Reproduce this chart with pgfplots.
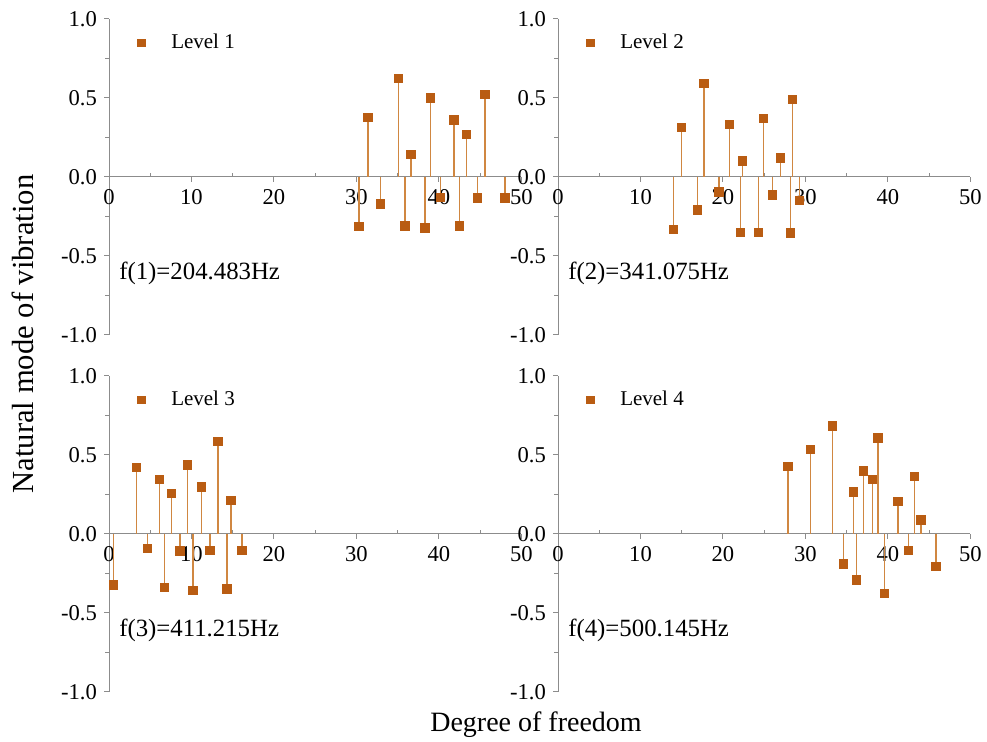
\documentclass[border=0pt]{standalone}
\usepackage{pgfplots}
\pgfplotsset{compat=1.18}
\usepackage{fontspec}
\setmainfont{Liberation Serif}
\definecolor{mk}{RGB}{185,92,18}
\definecolor{stemc}{RGB}{208,135,65}
\definecolor{axgray}{RGB}{140,140,140}

\pgfplotsset{
 mystyle/.style={
  width=206.25pt, height=158pt, scale only axis,
  xmin=0, xmax=50, ymin=-1, ymax=1,
  axis x line=middle, axis y line=left,
  axis line style={axgray, line width=0.5pt, -},
  xtick={0,10,...,50}, ytick={-1,-0.5,0,0.5,1},
  minor x tick num=1, minor y tick num=1,
  tick align=outside,
  major tick length=2.5pt, minor tick length=2pt,
  tick style={axgray, line width=0.5pt},
  minor x tick style={yshift=2pt},
  hide obscured x ticks=false,
  /pgf/number format/assume math mode=true,
  tick label style={font=\fontsize{11.3}{13}\selectfont},
  yticklabel style={/pgf/number format/.cd, fixed, fixed zerofill, precision=1},
  legend style={at={(0.069,0.925)}, anchor=west, draw=none, fill=none,
     inner sep=0pt, nodes={inner sep=0pt},
     /tikz/every odd column/.append style={column sep=13pt},
     font=\fontsize{10.5}{12}\selectfont},
  clip=false,
 },
 stemplot/.style={ycomb, color=stemc, line width=0.7pt, mark=square*, mark size=2pt,
   mark options={fill=mk, draw=mk}, forget plot},
 legimg/.style={only marks, mark=square*, mark size=1.85pt, color=mk},
}

\begin{document}
\begin{tikzpicture}
\useasboundingbox (0,0) rectangle (493.5pt,371pt);

% Level 1
\begin{axis}[mystyle, at={(54.5pt,203.5pt)}, anchor=south west]
\addplot[stemplot] coordinates {(30.3,-0.313)(31.4,0.375)(32.9,-0.17)(35.1,0.625)(35.9,-0.31)(36.6,0.143)(38.3,-0.322)(39.0,0.5)(40.2,-0.13)(41.8,0.36)(42.5,-0.31)(43.3,0.268)(44.7,-0.132)(45.6,0.522)(48.0,-0.132)};
\addlegendimage{legimg}
\addlegendentry{Level 1}
\node[anchor=west, inner sep=0pt, font=\fontsize{12.4}{14}\selectfont] at (axis cs:1.2,-0.61) {f(1)=204.483Hz};
\end{axis}

% Level 2
\begin{axis}[mystyle, at={(279pt,203.5pt)}, anchor=south west]
\addplot[stemplot] coordinates {(14.0,-0.334)(15.0,0.315)(16.9,-0.21)(17.7,0.59)(19.5,-0.095)(20.8,0.334)(22.1,-0.351)(22.4,0.102)(24.3,-0.351)(24.9,0.372)(26.0,-0.115)(27.0,0.121)(28.2,-0.355)(28.4,0.491)(29.3,-0.147)};
\addlegendimage{legimg}
\addlegendentry{Level 2}
\node[anchor=west, inner sep=0pt, font=\fontsize{12.4}{14}\selectfont] at (axis cs:1.2,-0.61) {f(2)=341.075Hz};
\end{axis}

% Level 3
\begin{axis}[mystyle, at={(54.5pt,25pt)}, anchor=south west]
\addplot[stemplot] coordinates {(0.56,-0.322)(3.3,0.421)(4.7,-0.09)(6.1,0.345)(6.7,-0.339)(7.55,0.255)(8.6,-0.107)(9.5,0.436)(10.2,-0.356)(11.2,0.297)(12.25,-0.103)(13.2,0.585)(14.3,-0.347)(14.8,0.213)(16.1,-0.103)};
\addlegendimage{legimg}
\addlegendentry{Level 3}
\node[anchor=west, inner sep=0pt, font=\fontsize{12.4}{14}\selectfont] at (axis cs:1.2,-0.61) {f(3)=411.215Hz};
\end{axis}

% Level 4
\begin{axis}[mystyle, at={(279pt,25pt)}, anchor=south west]
\addplot[stemplot] coordinates {(27.9,0.429)(30.6,0.535)(33.3,0.684)(34.6,-0.189)(35.8,0.265)(36.2,-0.291)(37.0,0.399)(38.1,0.346)(38.8,0.607)(39.6,-0.376)(41.2,0.206)(42.5,-0.104)(43.2,0.365)(44.0,0.089)(45.8,-0.206)};
\addlegendimage{legimg}
\addlegendentry{Level 4}
\node[anchor=west, inner sep=0pt, font=\fontsize{12.4}{14}\selectfont] at (axis cs:1.2,-0.61) {f(4)=500.145Hz};
\end{axis}

\node[rotate=90, font=\fontsize{15.3}{17}\selectfont] at (11.5pt,204pt) {Natural mode of vibration};
\node[font=\fontsize{14}{17}\selectfont] at (268pt,8.5pt) {Degree of freedom};
\end{tikzpicture}
\end{document}
